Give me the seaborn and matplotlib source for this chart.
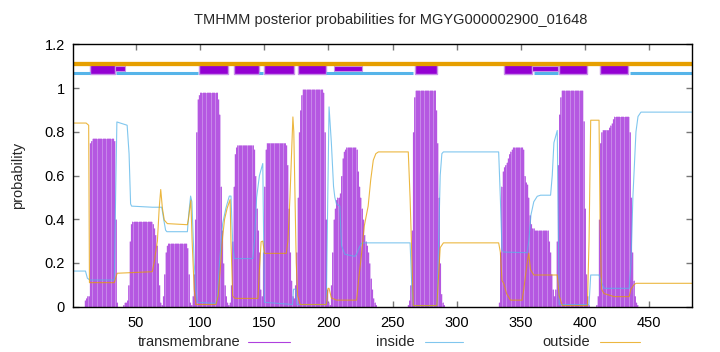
import numpy as np
import matplotlib
matplotlib.use("Agg")
import matplotlib.pyplot as plt
from matplotlib.lines import Line2D
from matplotlib.patches import Rectangle
import seaborn as sns

seq_len = 484
title = "TMHMM posterior probabilities for MGYG000002900_01648"

# transmembrane posterior per residue: (first residue, values); 0 elsewhere
tm_peaks = [
    (10, [0.03, 0.04, 0.05, 0.05, 0.75, 0.76, 0.77, 0.77, 0.77, 0.77,
          0.77, 0.77, 0.77, 0.77, 0.77, 0.77, 0.77, 0.77, 0.77, 0.77,
          0.77, 0.77, 0.77, 0.76, 0.40, 0.02]),
    (40, [0.01, 0.02, 0.02, 0.03, 0.10, 0.30, 0.38, 0.39, 0.39, 0.39,
          0.39, 0.39, 0.39, 0.39, 0.39, 0.39, 0.39, 0.39, 0.39, 0.39,
          0.39, 0.39, 0.39, 0.38, 0.36, 0.33, 0.28, 0.20, 0.10, 0.02]),
    (70, [0.01, 0.05, 0.15, 0.25, 0.28, 0.29, 0.29, 0.29, 0.29, 0.29,
          0.29, 0.29, 0.29, 0.29, 0.29, 0.29, 0.29, 0.29, 0.29, 0.29,
          0.27, 0.15, 0.02, 0.01]),
    (94, [0.05, 0.15, 0.40, 0.80, 0.95, 0.97,
          0.98, 0.98, 0.98, 0.98, 0.98, 0.98, 0.98, 0.98, 0.98, 0.98,
          0.98, 0.98, 0.98, 0.98, 0.95, 0.88, 0.55, 0.35, 0.20, 0.10,
          0.05, 0.02, 0.01]),
    (123, [0.02, 0.10, 0.30, 0.55, 0.70, 0.73, 0.74,
           0.74, 0.74, 0.74, 0.74, 0.74, 0.74, 0.74, 0.74, 0.74, 0.74,
           0.74, 0.74, 0.72, 0.60, 0.45, 0.35, 0.25, 0.08, 0.05, 0.25]),
    (150, [0.55, 0.72, 0.75, 0.75, 0.75, 0.75, 0.75, 0.75, 0.75, 0.75,
           0.75, 0.75, 0.75, 0.75, 0.75, 0.75, 0.75, 0.74, 0.65, 0.45,
           0.25, 0.12, 0.05, 0.04, 0.10, 0.25, 0.50, 0.80, 0.90, 0.97,
           0.995, 0.995, 0.995, 0.995, 0.995, 0.995, 0.995, 0.995, 0.995, 0.995,
           0.995, 0.995, 0.995, 0.995, 0.995, 0.995, 0.98, 0.80, 0.40, 0.08,
           0.02, 0.01]),
    (202, [0.10, 0.25, 0.40, 0.45, 0.49, 0.50, 0.50, 0.52, 0.60, 0.68,
           0.71, 0.72, 0.73, 0.73, 0.73, 0.73, 0.73, 0.73, 0.73, 0.73,
           0.72, 0.62, 0.55, 0.50, 0.45, 0.40, 0.33, 0.30, 0.28, 0.25,
           0.20, 0.13, 0.08, 0.04, 0.02, 0.01]),
    (262, [0.01, 0.03, 0.10, 0.35, 0.80, 0.96, 0.99, 0.99, 0.99, 0.99,
           0.99, 0.99, 0.99, 0.99, 0.99, 0.99, 0.99, 0.99, 0.99, 0.99,
           0.99, 0.99, 0.90, 0.75, 0.50, 0.20, 0.06, 0.02, 0.01]),
    (333, [0.02, 0.25, 0.55, 0.62, 0.64, 0.65, 0.66, 0.68, 0.70, 0.71,
           0.72, 0.73, 0.73, 0.73, 0.73, 0.73, 0.73, 0.73, 0.73, 0.72,
           0.60, 0.57, 0.56, 0.50, 0.42, 0.38, 0.36, 0.36, 0.35, 0.35,
           0.35, 0.35, 0.35, 0.35, 0.35, 0.35, 0.35, 0.35, 0.35, 0.30,
           0.25, 0.15, 0.08, 0.05, 0.08, 0.30, 0.65, 0.88, 0.96, 0.99,
           0.99, 0.99, 0.99, 0.99, 0.99, 0.99, 0.99, 0.99, 0.99, 0.99,
           0.99, 0.99, 0.99, 0.99, 0.99, 0.99, 0.85, 0.45, 0.15, 0.05,
           0.01]),
    (409, [0.01, 0.05, 0.40, 0.75, 0.80, 0.81, 0.81, 0.81, 0.81, 0.81,
           0.82, 0.83, 0.84, 0.86, 0.87, 0.87, 0.87, 0.87, 0.87, 0.87,
           0.87, 0.87, 0.87, 0.87, 0.87, 0.87, 0.80, 0.50, 0.25, 0.12,
           0.05, 0.02, 0.01]),
]

inside_x = [1, 10.5, 12, 14, 33, 34, 35, 43, 44.5, 45.7,
            46.5, 62.6, 70, 71.5, 73, 74, 90, 91, 92.5, 93.5,
            95.3, 96.6, 97.9, 112.3, 113.5, 115, 117.5, 120, 122.7, 124,
            125.3, 126.6, 128, 141, 142.3, 144, 146.2, 148.8, 149.5, 150.1,
            172, 172.8, 174.5, 175.5, 198.4, 199.5, 200.5, 202.3, 204, 205,
            206.3, 208.9, 210.2, 212.8, 220.6, 222, 224, 225.8, 227.1, 263.7,
            265, 266.2, 284.6, 286, 287.2, 288.5, 289.7, 332.8, 334.1, 335.4,
            336.7, 355, 356.3, 358, 360.2, 362.9, 365.5, 373.3, 374.6, 375.9,
            378.5, 379.3, 380, 403.3, 404.6, 411.1, 412.4, 415, 434.6, 436,
            437.5, 439.9, 441.5, 443.8, 484]
inside_y = [0.163, 0.163, 0.13, 0.122, 0.122, 0.5, 0.845, 0.83, 0.7, 0.47,
            0.46, 0.455, 0.455, 0.40, 0.35, 0.343, 0.343, 0.42, 0.506, 0.48,
            0.2, 0.08, 0.02, 0.015, 0.05, 0.2, 0.38, 0.45, 0.506, 0.506,
            0.3, 0.22, 0.22, 0.22, 0.3, 0.5, 0.6, 0.655, 0.3, 0.02,
            0.01, 0.08, 0.08, 0.01, 0.01, 0.5, 0.914, 0.75, 0.55, 0.5,
            0.47, 0.46, 0.28, 0.24, 0.23, 0.24, 0.27, 0.29, 0.292, 0.292,
            0.1, 0.005, 0.005, 0.3, 0.6, 0.7, 0.708, 0.708, 0.5, 0.26,
            0.25, 0.247, 0.3, 0.42, 0.48, 0.505, 0.51, 0.51, 0.6, 0.75,
            0.806, 0.4, 0.01, 0.01, 0.145, 0.145, 0.12, 0.084, 0.084, 0.2,
            0.5, 0.8, 0.87, 0.89, 0.89]

outside_x = [1, 11, 13, 13.6, 33, 34, 35.2, 62.6, 64, 66.6,
             68, 69.2, 70.5, 72, 74.4, 90, 90.8, 92.7, 93.7, 95.3,
             96.6, 112.3, 114, 116, 117.5, 119, 121, 123.3, 124, 125.3,
             126.6, 128, 145, 146, 147.5, 148.8, 150.1, 167.1, 168.4, 170,
             172.3, 173, 174.9, 176, 178, 198.4, 199.7, 200.5, 202.3, 206.3,
             222, 223.5, 226, 228, 231, 233, 235, 237, 239, 262.3,
             263.7, 266.2, 284.6, 286, 287.2, 289.7, 332.8, 334.1, 335.4, 336.7,
             339, 342, 351.1, 352.4, 355, 356.3, 357.6, 360.2, 378.5, 380,
             382.5, 402, 403.3, 404.6, 411.1, 411.9, 413, 415, 422.9, 434.6,
             436, 438.3, 439.9, 484]
outside_y = [0.84, 0.84, 0.83, 0.11, 0.11, 0.13, 0.153, 0.16, 0.2, 0.3,
             0.45, 0.536, 0.45, 0.396, 0.38, 0.375, 0.4, 0.487, 0.3, 0.08,
             0.01, 0.01, 0.05, 0.2, 0.32, 0.4, 0.45, 0.49, 0.3, 0.05,
             0.04, 0.038, 0.038, 0.15, 0.297, 0.3, 0.244, 0.244, 0.3, 0.5,
             0.868, 0.8, 0.2, 0.05, 0.01, 0.01, 0.084, 0.084, 0.04, 0.03,
             0.03, 0.12, 0.25, 0.37, 0.46, 0.58, 0.67, 0.70, 0.708, 0.708,
             0.5, 0.005, 0.005, 0.15, 0.27, 0.292, 0.292, 0.25, 0.12, 0.107,
             0.06, 0.03, 0.03, 0.08, 0.2, 0.245, 0.17, 0.145, 0.145, 0.05,
             0.005, 0.005, 0.3, 0.853, 0.853, 0.4, 0.08, 0.06, 0.046, 0.046,
             0.08, 0.1, 0.107, 0.107]

# predicted topology drawn above the curves
inside_segments = [(1, 13.9), (34, 98.4), (146.2, 148.8), (198.4, 266.2),
                   (360, 379.3), (435, 484)]
helix_boxes = [(13.9, 33.4), (99.2, 121.4), (126.1, 145.7), (150.1, 172.8),
               (176.2, 198.4), (267.6, 284.6), (336.7, 359), (379.8, 402),
               (411.9, 433.8)]
weak_boxes = [(33.4, 41), (204.4, 226.3), (359, 379.3)]

xticks = [50, 100, 150, 200, 250, 300, 350, 400, 450]
yticks = [0, 0.2, 0.4, 0.6, 0.8, 1, 1.2]
ytick_labels = ["0", "0.2", "0.4", "0.6", "0.8", "1", "1.2"]

purple = "#9400d3"
blue = "#56b4e9"
orange = "#e69f00"

tm = np.zeros(seq_len)
for start, vals in tm_peaks:
    tm[start - 1:start - 1 + len(vals)] = vals
residues = np.arange(1, seq_len + 1)

sns.set_theme(style="ticks")
plt.rcParams['font.family'] = ['Liberation Sans', 'DejaVu Sans']
plt.rcParams['font.size'] = 10.5

fig, ax = plt.subplots(figsize=(7.2, 3.52), dpi=100)
fig.subplots_adjust(left=0.1018, right=0.9618, bottom=0.1287, top=0.874)

# impulses for transmembrane probability
ax.fill_between(residues, tm, step='mid', color='#c787e9', lw=0)
ax.vlines(residues, 0, tm, color=purple, lw=0.45, alpha=0.55)

sns.lineplot(x=inside_x, y=inside_y, ax=ax, color=blue, lw=0.8, alpha=0.75)
sns.lineplot(x=outside_x, y=outside_y, ax=ax, color=orange, lw=0.8, alpha=0.75)

# topology band
ax.hlines(1.11, 1, seq_len, color=orange, lw=3.1)
for a, b in inside_segments:
    ax.hlines(1.07, a, b, color=blue, lw=2.2)
for a, b in helix_boxes:
    ax.add_patch(Rectangle((a, 1.066), b - a, 0.046, fc=purple, ec='#c890e8', lw=1))
for a, b in weak_boxes:
    ax.add_patch(Rectangle((a, 1.078), b - a, 0.022, fc=purple, ec='#c890e8', lw=0.8))

ax.set_xlim(1, seq_len)
ax.set_ylim(0, 1.2)
ax.set_xticks(xticks)
ax.set_yticks(yticks)
ax.set_yticklabels(ytick_labels)
ax.tick_params(direction='in', length=4, width=1, color='#777777',
               top=True, right=True, labelsize=10.5, labelcolor='black')
ax.tick_params(axis='x', pad=7)
ax.tick_params(axis='y', pad=6)
for s in ax.spines.values():
    s.set_color('black')
    s.set_linewidth(1)
ax.set_xlabel('')
ax.set_ylabel('')

fig.text(0.542, 1 - 20 / 352, title, ha='center', va='center', fontsize=10.5)
fig.text(18 / 720, 0.5014, 'probability', rotation=90, ha='center', va='center', fontsize=10.5)

# key below the plot, text then line sample
key = [("transmembrane", purple, 240, 248, 290),
       ("inside", blue, 415, 425, 463),
       ("outside", orange, 590, 600, 640)]
ky = 1 - 342 / 352
for label, col, tx, x0, x1 in key:
    fig.text(tx / 720, ky, label, ha='right', va='center', fontsize=10.5)
    fig.add_artist(Line2D([x0 / 720, x1 / 720], [ky, ky], color=col, lw=0.8,
                          alpha=0.75, transform=fig.transFigure))

fig.savefig("out.png", dpi=100)
